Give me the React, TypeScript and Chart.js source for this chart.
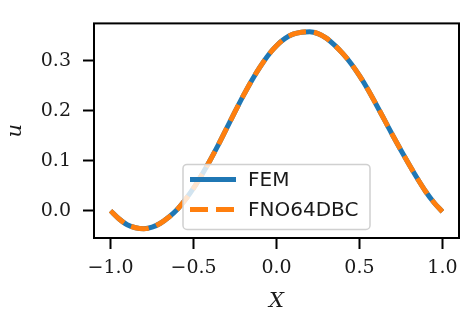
import React, { useEffect, useRef } from "react";
import { Chart, registerables } from "chart.js";

Chart.register(...registerables);

const xValues = [
  -1.0, -0.95, -0.9, -0.85, -0.8, -0.75, -0.7, -0.65, -0.6, -0.55, -0.5,
  -0.45, -0.4, -0.35, -0.3, -0.25, -0.2, -0.15, -0.1, -0.05, 0.0,
  0.05, 0.1, 0.15, 0.2, 0.25, 0.3, 0.35, 0.4, 0.45, 0.5,
  0.55, 0.6, 0.65, 0.7, 0.75, 0.8, 0.85, 0.9, 0.95, 1.0,
];

const femValues = [
  0.0, -0.016, -0.028, -0.034, -0.036, -0.033, -0.025, -0.013, 0.002, 0.022, 0.045,
  0.072, 0.101, 0.132, 0.165, 0.198, 0.23, 0.26, 0.287, 0.311, 0.33,
  0.344, 0.353, 0.357, 0.358, 0.354, 0.345, 0.331, 0.314, 0.294, 0.27,
  0.243, 0.213, 0.182, 0.151, 0.121, 0.092, 0.064, 0.038, 0.016, -0.002,
];

const fnoValues = [
  0.0, -0.016, -0.028, -0.034, -0.036, -0.033, -0.025, -0.013, 0.002, 0.022, 0.045,
  0.072, 0.101, 0.132, 0.165, 0.198, 0.23, 0.26, 0.287, 0.311, 0.33,
  0.344, 0.353, 0.357, 0.358, 0.354, 0.345, 0.331, 0.314, 0.294, 0.27,
  0.243, 0.213, 0.182, 0.151, 0.121, 0.092, 0.064, 0.038, 0.016, -0.002,
];

const seriesLabels = ["FEM", "FNO64DBC"];
const xTicks = [-1.0, -0.5, 0.0, 0.5, 1.0];
const yTicks = [0.0, 0.1, 0.2, 0.3];
const xTitle = "X";
const yTitle = "u";

const fmt = (v: number) => {
  const s = Math.abs(v).toFixed(1);
  return v < -1e-9 ? "\u2212" + s : s;
};

const framePlugin = {
  id: "frame",
  afterDatasetsDraw(chart: any) {
    const { ctx, chartArea } = chart;
    ctx.save();
    ctx.strokeStyle = "#000";
    ctx.lineWidth = 2;
    ctx.strokeRect(chartArea.left, chartArea.top, chartArea.right - chartArea.left, chartArea.bottom - chartArea.top);
    ctx.restore();
  },
};

const legendPlugin = {
  id: "innerLegend",
  afterDraw(chart: any) {
    const { ctx, chartArea } = chart;
    const x0 = chartArea.left + 89;
    const y0 = chartArea.top + 141;
    const w = 187;
    const h = 65;
    const r = 4;
    ctx.save();
    ctx.beginPath();
    ctx.moveTo(x0 + r, y0);
    ctx.arcTo(x0 + w, y0, x0 + w, y0 + h, r);
    ctx.arcTo(x0 + w, y0 + h, x0, y0 + h, r);
    ctx.arcTo(x0, y0 + h, x0, y0, r);
    ctx.arcTo(x0, y0, x0 + w, y0, r);
    ctx.closePath();
    ctx.fillStyle = "rgba(255,255,255,0.8)";
    ctx.fill();
    ctx.strokeStyle = "#d0d0d0";
    ctx.lineWidth = 1.5;
    ctx.stroke();
    chart.data.datasets.forEach((ds: any, i: number) => {
      const cy = y0 + 15 + i * 30;
      ctx.beginPath();
      ctx.setLineDash(ds.borderDash || []);
      ctx.strokeStyle = ds.borderColor;
      ctx.lineWidth = ds.borderWidth;
      ctx.moveTo(x0 + 7, cy);
      ctx.lineTo(x0 + 53, cy);
      ctx.stroke();
      ctx.setLineDash([]);
      ctx.fillStyle = "#1a1a1a";
      ctx.font = '20px "DejaVu Sans"';
      ctx.textBaseline = "middle";
      ctx.textAlign = "left";
      ctx.fillText(ds.label, x0 + 65, cy + 1);
    });
    ctx.restore();
  },
};

export default function App() {
  const ref = useRef<HTMLCanvasElement | null>(null);
  useEffect(() => {
    if (!ref.current) return;
    const chart = new Chart(ref.current, {
      type: "scatter",
      data: {
        datasets: [
          {
            label: seriesLabels[0],
            data: xValues.map((x, i) => ({ x, y: femValues[i] })),
            showLine: true,
            borderColor: "#1f77b4",
            backgroundColor: "#1f77b4",
            borderWidth: 5,
            pointRadius: 0,
            cubicInterpolationMode: "monotone",
            order: 1,
          },
          {
            label: seriesLabels[1],
            data: xValues.map((x, i) => ({ x, y: fnoValues[i] })),
            showLine: true,
            borderColor: "#ff7f0e",
            backgroundColor: "#ff7f0e",
            borderWidth: 5,
            borderDash: [18, 8],
            pointRadius: 0,
            cubicInterpolationMode: "monotone",
            order: 0,
          },
        ],
      },
      options: {
        animation: false,
        responsive: false,
        layout: { padding: { left: 0, top: 22, right: 12, bottom: 0 } },
        plugins: { legend: { display: false }, tooltip: { enabled: false } },
        scales: {
          x: {
            type: "linear",
            min: -1.1,
            max: 1.1,
            afterBuildTicks: (s: any) => {
              s.ticks = xTicks.map((v) => ({ value: v }));
            },
            afterFit: (s: any) => {
              s.height = 82;
            },
            grid: { drawOnChartArea: false, drawTicks: true, tickLength: 11, tickWidth: 2, tickColor: "#000" },
            border: { display: false },
            ticks: {
              padding: 8,
              color: "#1a1a1a",
              font: { family: "DejaVu Serif", size: 19 },
              callback: (v: any) => fmt(Number(v)),
              maxRotation: 0,
            },
            title: {
              display: true,
              text: xTitle,
              color: "#1a1a1a",
              font: { family: "DejaVu Serif", size: 21, style: "italic" },
              padding: { top: 0, bottom: 6 },
            },
          },
          y: {
            type: "linear",
            min: -0.0545,
            max: 0.3745,
            afterBuildTicks: (s: any) => {
              s.ticks = yTicks.map((v) => ({ value: v }));
            },
            afterFit: (s: any) => {
              s.width = 94;
            },
            grid: { drawOnChartArea: false, drawTicks: true, tickLength: 11, tickWidth: 2, tickColor: "#000" },
            border: { display: false },
            ticks: {
              padding: 12,
              color: "#1a1a1a",
              font: { family: "DejaVu Serif", size: 19 },
              callback: (v: any) => fmt(Number(v)),
            },
            title: {
              display: true,
              text: yTitle,
              color: "#1a1a1a",
              font: { family: "DejaVu Serif", size: 21, style: "italic" },
              padding: { top: 3, bottom: 0 },
            },
          },
        },
      },
      plugins: [framePlugin, legendPlugin],
    });
    return () => chart.destroy();
  }, []);
  return (
    <div style={{ position: "fixed", left: 0, top: 0, width: 471, height: 320, background: "#fff" }}>
      <canvas ref={ref} width={471} height={320} />
    </div>
  );
}
